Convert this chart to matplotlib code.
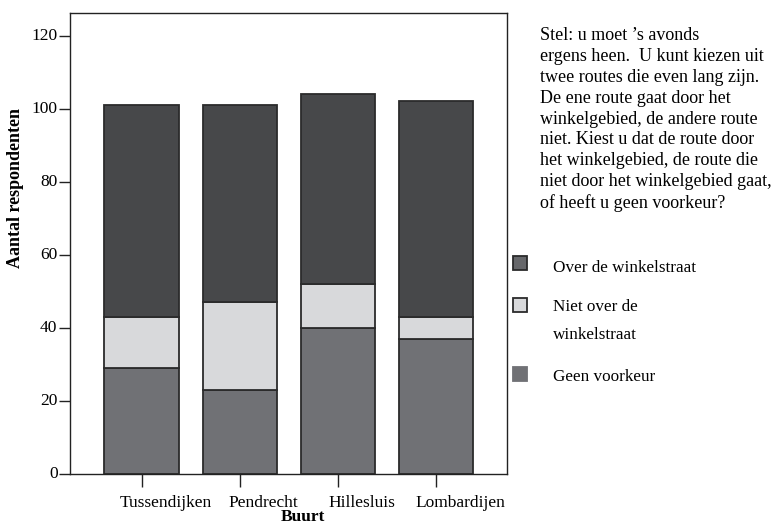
import matplotlib
matplotlib.use("Agg")
import matplotlib.pyplot as plt
from matplotlib.transforms import ScaledTranslation
from matplotlib.patches import Rectangle
import numpy as np

categories = ["Tussendijken", "Pendrecht", "Hillesluis", "Lombardijen"]
geen_voorkeur = [29, 23, 40, 37]
niet_over = [14, 24, 12, 6]
over_winkelstraat = [58, 54, 52, 59]
series_labels = ["Over de winkelstraat", "Niet over de\nwinkelstraat", "Geen voorkeur"]
yticks = [0, 20, 40, 60, 80, 100, 120]

c_over = "#47484a"
c_niet = "#d8d9db"
c_geen = "#707175"
c_over_patch = "#67686b"
edge = "#2b2b2b"

plt.rcParams['font.family'] = ['Liberation Serif', 'DejaVu Serif']

fig = plt.figure(figsize=(7.76, 5.26), dpi=100)
ax = fig.add_axes([70/776, 1-474/526, (507-70)/776, (474-13)/526])

x = np.arange(len(categories))
w = 0.76
ax.bar(x, geen_voorkeur, w, color=c_geen, edgecolor=edge, linewidth=1.3)
ax.bar(x, niet_over, w, bottom=geen_voorkeur, color=c_niet, edgecolor=edge, linewidth=1.3)
bot2 = np.array(geen_voorkeur) + np.array(niet_over)
ax.bar(x, over_winkelstraat, w, bottom=bot2, color=c_over, edgecolor=edge, linewidth=1.3)

ax.set_xlim(-0.731, 3.724)
ax.set_ylim(0, 126.2)
ax.set_yticks(yticks)
ax.set_xticks(x)
ax.set_xticklabels(categories, fontsize=12.5)
ax.tick_params(axis='y', length=8, width=1, pad=1, labelsize=12.5, color='#222222')
ax.tick_params(axis='x', length=9, width=1, pad=6, color='#222222')
for lab in ax.get_xticklabels():
    lab.set_transform(lab.get_transform() + ScaledTranslation(24/100, 0, fig.dpi_scale_trans))
for lab in ax.get_yticklabels():
    lab.set_transform(lab.get_transform() + ScaledTranslation(0, 2/100, fig.dpi_scale_trans))
for s in ax.spines.values():
    s.set_linewidth(1.0)
    s.set_color('#222222')

fig.text(303/776, 1-517/526, "Buurt", ha='center', va='center', fontsize=12.5, fontweight='bold')
fig.text(16/776, 1-188/526, "Aantal respondenten", ha='center', va='center', rotation=90,
         fontsize=13, fontweight='bold')

question = ("Stel: u moet \u2019s avonds\n"
            "ergens heen.  U kunt kiezen uit\n"
            "twee routes die even lang zijn.\n"
            "De ene route gaat door het\n"
            "winkelgebied, de andere route\n"
            "niet. Kiest u dat de route door\n"
            "het winkelgebied, de route die\n"
            "niet door het winkelgebied gaat,\n"
            "of heeft u geen voorkeur?")
fig.text(540/776, 1-27/526, question, ha='left', va='top', fontsize=13, linespacing=1.3)

# legend
leg_items = [
    (series_labels[0], c_over_patch, edge, 256, [268]),
    (series_labels[1], c_niet, edge, 298, [307, 335]),
    (series_labels[2], c_geen, c_geen, 367, [377]),
]
for label, fc, ec, ytop, ys in leg_items:
    r = Rectangle((513/776, 1-(ytop+14)/526), 14/776, 14/526, transform=fig.transFigure,
                  facecolor=fc, edgecolor=ec, linewidth=1.3)
    fig.patches.append(r)
    for line, yy in zip(label.split("\n"), ys):
        fig.text(553/776, 1-yy/526, line, ha='left', va='center', fontsize=12.3)

fig.savefig("out.png", dpi=100)
